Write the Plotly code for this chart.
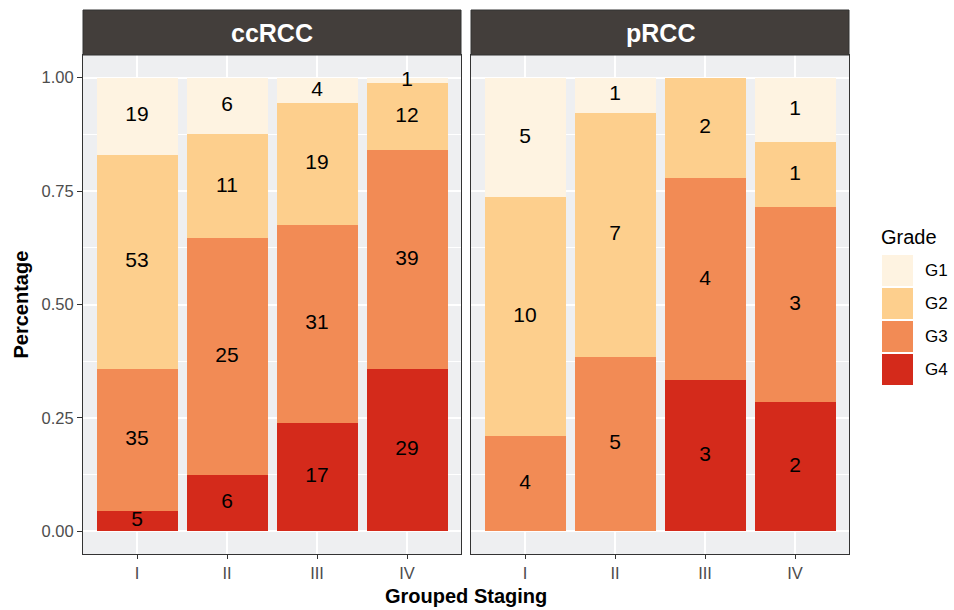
import numpy as np
import plotly.graph_objects as go

# ---- data -------------------------------------------------------------
stages = ["I", "II", "III", "IV"]
grades = ["G1", "G2", "G3", "G4"]
facets = ["ccRCC", "pRCC"]

# counts per grade, one value per stage
cc_G1 = [19, 6, 4, 1]
cc_G2 = [53, 11, 19, 12]
cc_G3 = [35, 25, 31, 39]
cc_G4 = [5, 6, 17, 29]

p_G1 = [5, 1, 0, 1]
p_G2 = [10, 7, 2, 1]
p_G3 = [4, 5, 4, 3]
p_G4 = [0, 0, 3, 2]

grade_colors = ["#FEF3E1", "#FDCF8D", "#F28B55", "#D42A1B"]

# ---- layout geometry (pixels of the 954x610 canvas) -------------------
W, H = 954, 610
panels = [(83, 461), (471, 849)]
panel_top, panel_bot = 55, 554
strip_top = 10


def px(x):
    return x / W


def py(y):
    return 1 - y / H


fig = go.Figure()

counts_by_facet = {
    "ccRCC": [cc_G1, cc_G2, cc_G3, cc_G4],
    "pRCC": [p_G1, p_G2, p_G3, p_G4],
}

for fi, facet in enumerate(facets):
    xa = "x" if fi == 0 else "x2"
    ya = "y" if fi == 0 else "y2"
    counts = np.array(counts_by_facet[facet], dtype=float)  # grade x stage
    totals = counts.sum(axis=0)
    props = counts / totals
    # stack from G4 at the bottom up to G1 at the top
    base = np.zeros(len(stages))
    lab_x, lab_y, lab_t = [], [], []
    for gi in reversed(range(len(grades))):
        fig.add_trace(go.Bar(
            x=stages, y=props[gi], xaxis=xa, yaxis=ya,
            name=grades[gi], marker=dict(color=grade_colors[gi], line=dict(width=0)),
            showlegend=False, hoverinfo="skip",
        ))
        for si, st in enumerate(stages):
            if counts[gi, si] > 0:
                lab_x.append(st)
                lab_y.append(base[si] + props[gi, si] / 2)
                lab_t.append(str(int(counts[gi, si])))
        base = base + props[gi]
    fig.add_trace(go.Scatter(
        x=lab_x, y=lab_y, text=lab_t, mode="text", xaxis=xa, yaxis=ya,
        textfont=dict(size=21, color="black", family="Liberation Sans"),
        showlegend=False, hoverinfo="skip", cliponaxis=False,
    ))

axis_common = dict(
    showline=True, mirror=True, linecolor="#333333", linewidth=1,
    showgrid=True, gridcolor="white", gridwidth=1.6, zeroline=False,
)

fig.update_layout(
    width=W, height=H,
    margin=dict(l=0, r=0, t=0, b=0),
    paper_bgcolor="white", plot_bgcolor="#EEEFF1",
    barmode="stack", bargap=0.1,
    font=dict(family="Liberation Sans", color="#4D4D4D"),
    xaxis=dict(domain=[px(panels[0][0]), px(panels[0][1])], anchor="y",
               range=[-0.6, 3.6], ticks="outside", ticklen=4, tickcolor="#333333",
               tickfont=dict(size=16.5, color="#4D4D4D"), **axis_common),
    xaxis2=dict(domain=[px(panels[1][0]), px(panels[1][1])], anchor="y2",
                range=[-0.6, 3.6], ticks="outside", ticklen=4, tickcolor="#333333",
                tickfont=dict(size=16.5, color="#4D4D4D"), **axis_common),
    yaxis=dict(domain=[py(panel_bot), py(panel_top)], anchor="x",
               range=[-0.05, 1.05], tickvals=[0, 0.25, 0.5, 0.75, 1.0],
               tickformat=".2f", ticks="outside", ticklen=5, tickcolor="#333333",
               tickfont=dict(size=16.5, color="#4D4D4D"),
               minor=dict(tick0=0.125, dtick=0.25, showgrid=True,
                          gridcolor="white", gridwidth=0.7),
               **axis_common),
    yaxis2=dict(domain=[py(panel_bot), py(panel_top)], anchor="x2", matches="y",
                range=[-0.05, 1.05], tickvals=[0, 0.25, 0.5, 0.75, 1.0],
                showticklabels=False, ticks="",
                minor=dict(tick0=0.125, dtick=0.25, showgrid=True,
                           gridcolor="white", gridwidth=0.7),
                **axis_common),
)

shapes = []
annotations = []

# facet strips
for fi, facet in enumerate(facets):
    x0, x1 = panels[fi]
    shapes.append(dict(type="rect", xref="paper", yref="paper",
                       x0=px(x0), x1=px(x1), y0=py(panel_top), y1=py(strip_top),
                       fillcolor="#433E3B", line=dict(color="#333333", width=1)))
    annotations.append(dict(text="<b>%s</b>" % facet, xref="paper", yref="paper",
                            x=px((x0 + x1) / 2), y=py((strip_top + panel_top) / 2),
                            xanchor="center", yanchor="middle", showarrow=False,
                            font=dict(size=25, color="white", family="Liberation Sans")))

# axis titles
annotations.append(dict(text="<b>Grouped Staging</b>", xref="paper", yref="paper",
                        x=px((panels[0][0] + panels[1][1]) / 2), y=py(596),
                        xanchor="center", yanchor="middle", showarrow=False,
                        font=dict(size=20, color="black", family="Liberation Sans")))
annotations.append(dict(text="<b>Percentage</b>", xref="paper", yref="paper",
                        x=px(20), y=py((panel_top + panel_bot) / 2), textangle=-90,
                        xanchor="center", yanchor="middle", showarrow=False,
                        font=dict(size=20, color="black", family="Liberation Sans")))

# legend
key_x0, key_x1 = 882, 913
key_top, key_h, key_step = 255, 31, 33
annotations.append(dict(text="Grade", xref="paper", yref="paper",
                        x=px(879), y=py(237), xanchor="left", yanchor="middle",
                        showarrow=False,
                        font=dict(size=20, color="black", family="Liberation Sans")))
for gi, g in enumerate(grades):
    t = key_top + gi * key_step
    shapes.append(dict(type="rect", xref="paper", yref="paper",
                       x0=px(key_x0), x1=px(key_x1), y0=py(t + key_h), y1=py(t),
                       fillcolor=grade_colors[gi], line=dict(width=0)))
    annotations.append(dict(text=g, xref="paper", yref="paper",
                            x=px(923), y=py(t + key_h / 2), xanchor="left",
                            yanchor="middle", showarrow=False,
                            font=dict(size=17, color="black", family="Liberation Sans")))

fig.update_layout(shapes=shapes, annotations=annotations)

fig.write_html("out.html")
